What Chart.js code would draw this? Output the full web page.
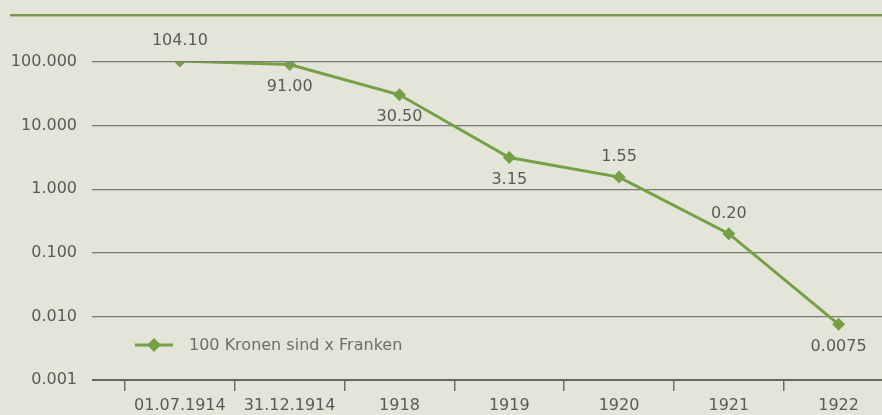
<!DOCTYPE html>
<html><head><meta charset="utf-8">
<script src="https://cdn.jsdelivr.net/npm/chart.js@4/dist/chart.umd.min.js"></script>
<style>
html,body{margin:0;padding:0;background:#e4e5d9;overflow:hidden;width:882px;height:415px;}
#topline{position:absolute;left:10px;right:0;top:14px;height:2px;background:#7b9652;border-bottom:1px solid #b3c19b;}
#wrap{position:absolute;left:0;top:0;width:900px;height:415px;}
</style></head>
<body>
<div id="topline"></div>
<div id="wrap"><canvas id="c" width="900" height="415"></canvas></div>
<script>
const categories = ["01.07.1914","31.12.1914","1918","1919","1920","1921","1922"];
const seriesName = "100 Kronen sind x Franken";
const values = [104.10, 91.00, 30.50, 3.15, 1.55, 0.20, 0.0075];
const valueLabels = ["104.10","91.00","30.50","3.15","1.55","0.20","0.0075"];
const labelSide = ["above","below","below","below","above","above","below"];
const yTicks = [0.001, 0.01, 0.1, 1, 10, 100];

const GREEN = '#77a046';
const TXT = '#5a5a5a';
const FONT = '"DejaVu Sans", sans-serif';

const dataLabelPlugin = {
  id:'dataLabels',
  afterDatasetsDraw(chart){
    const ctx = chart.ctx;
    const meta = chart.getDatasetMeta(0);
    ctx.save();
    ctx.font = '16px ' + FONT;
    ctx.fillStyle = TXT;
    ctx.textAlign = 'center';
    ctx.textBaseline = 'middle';
    meta.data.forEach((pt,i)=>{
      const dy = labelSide[i]==='above' ? -20 : 22;
      ctx.fillText(valueLabels[i], pt.x, pt.y + dy);
    });
    ctx.restore();
  }
};

const legendPlugin = {
  id:'innerLegend',
  afterDraw(chart){
    const ctx = chart.ctx;
    const ds = chart.data.datasets[0];
    const y = chart.chartArea.bottom - 35;
    const x0 = chart.chartArea.left + 10;
    ctx.save();
    ctx.strokeStyle = ds.borderColor;
    ctx.lineWidth = 3;
    ctx.beginPath(); ctx.moveTo(x0, y); ctx.lineTo(x0+38, y); ctx.stroke();
    ctx.fillStyle = ds.backgroundColor;
    ctx.beginPath();
    ctx.moveTo(x0+19, y-7); ctx.lineTo(x0+26, y); ctx.lineTo(x0+19, y+7); ctx.lineTo(x0+12, y); ctx.closePath(); ctx.fill();
    ctx.font = '16px ' + FONT;
    ctx.fillStyle = '#6a7163';
    ctx.textAlign = 'left';
    ctx.textBaseline = 'middle';
    ctx.fillText(ds.label, x0+54, y+1);
    ctx.restore();
  }
};

new Chart(document.getElementById('c'), {
  type:'line',
  data:{
    labels:categories,
    datasets:[{
      label:seriesName,
      data:values,
      borderColor:GREEN,
      backgroundColor:GREEN,
      borderWidth:3,
      pointStyle:'rectRot',
      pointRadius:6.5,
      pointHoverRadius:6.5,
      pointBackgroundColor:GREEN,
      pointBorderWidth:0,
      tension:0
    }]
  },
  options:{
    responsive:false,
    animation:false,
    events:[],
    layout:{padding:{top:62,left:11,right:5,bottom:0}},
    plugins:{legend:{display:false},title:{display:false},tooltip:{enabled:false}},
    scales:{
      x:{
        type:'category',
        offset:true,
        border:{display:false},
        afterFit(s){ s.paddingLeft = 0; s.paddingRight = 0; s.height = 35; },
        grid:{offset:true,drawOnChartArea:false,drawTicks:true,tickLength:11,color:'#6e6e6e',lineWidth:1.5},
        ticks:{color:TXT,font:{family:FONT,size:16},padding:5,maxRotation:0,autoSkip:false}
      },
      y:{
        type:'logarithmic',
        min:0.001,max:100,
        border:{display:false},
        afterFit(s){ s.width = 114; },
        afterBuildTicks(axis){ axis.ticks = yTicks.map(v=>({value:v,major:true})); },
        grid:{
          drawTicks:true,tickLength:33,
          color:(c)=> c.tick && c.tick.value===0.001 ? '#666666' : '#7a7a7a',
          lineWidth:(c)=> c.tick && c.tick.value===0.001 ? 2 : 1.3
        },
        ticks:{color:TXT,font:{family:FONT,size:16},padding:15,callback:(v)=>Number(v).toFixed(3)}
      }
    }
  },
  plugins:[dataLabelPlugin, legendPlugin]
});
</script>
</body></html>
